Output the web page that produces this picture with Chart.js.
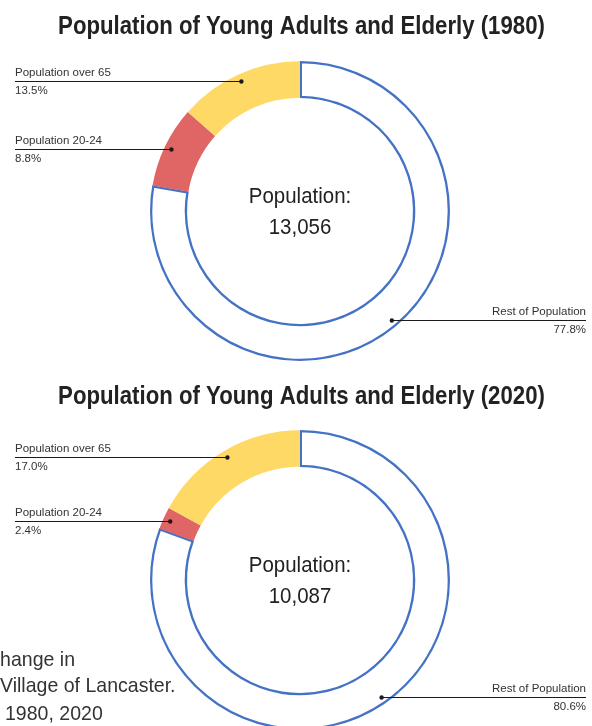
<!DOCTYPE html>
<html>
<head>
<meta charset="utf-8">
<script src="https://cdn.jsdelivr.net/npm/chart.js@4.4.1/dist/chart.umd.min.js"></script>
<style>
  html, body { margin: 0; padding: 0; background: #fff; width: 592px; height: 726px; overflow: hidden; position: relative; }
  canvas { position: absolute; left: 0; }
  #chart1980 { top: 0; }
  #chart2020 { top: 370px; }
  .note { position: absolute; white-space: nowrap; font-family: "Liberation Sans", Arial, sans-serif; font-size: 21px; color: #333; transform: scaleX(0.93); transform-origin: left top; }
</style>
</head>
<body>
<canvas id="chart1980" width="592" height="370"></canvas>
<canvas id="chart2020" width="592" height="370"></canvas>
<div class="note" style="left:-14px; top:647px;">Change in</div>
<div class="note" style="left:0px; top:673px;">Village of Lancaster.</div>
<div class="note" style="left:5px; top:701px;">1980, 2020</div>
<script>
// data
const segmentLabels = ['Rest of Population', 'Population 20-24', 'Population over 65'];
const shares1980 = [77.8, 8.8, 13.5];
const shares2020 = [80.6, 2.4, 17.0];
const years = ['1980', '2020'];
const totals = [13056, 10087];

const segmentColors = ['#FFFFFF', '#E06666', '#FFD966'];
const ringBlue = '#4472C4';
const textFont = '"Liberation Sans", Arial, sans-serif';

// narrow bold title, squeezed like Arial Narrow
const titlePlugin = {
    id: 'narrowTitle',
    afterDraw(chart) {
        const ctx = chart.ctx;
        ctx.save();
        ctx.fillStyle = '#222';
        ctx.font = 'bold 25px ' + textFont;
        ctx.textAlign = 'center';
        ctx.textBaseline = 'alphabetic';
        ctx.translate(301.5, 34);
        ctx.scale(0.888, 1);
        ctx.fillText(chart.options.plugins.narrowTitle.text, 0, 0);
        ctx.restore();
    }
};

// callout lines, dots, labels and the number in the middle
const calloutPlugin = {
    id: 'callouts',
    afterDatasetsDraw(chart) {
        const ctx = chart.ctx;
        const meta = chart.getDatasetMeta(0);
        const vals = chart.data.datasets[0].data;
        ctx.save();
        meta.data.forEach((arc, i) => {
            const p = arc.getProps(['x', 'y', 'startAngle', 'endAngle', 'innerRadius', 'outerRadius'], true);
            const mid = (p.startAngle + p.endAngle) / 2;
            const r = p.innerRadius + (p.outerRadius - p.innerRadius) * 0.8;
            const dx = p.x + Math.cos(mid) * r;
            const dy = Math.round(p.y + Math.sin(mid) * r);
            const left = Math.cos(mid) < 0;
            const edge = left ? 15 : chart.width - 6;

            ctx.strokeStyle = '#1a1a1a';
            ctx.lineWidth = 1.2;
            ctx.beginPath();
            ctx.moveTo(edge, dy + 0.5);
            ctx.lineTo(dx, dy + 0.5);
            ctx.stroke();

            ctx.fillStyle = '#1a1a1a';
            ctx.beginPath();
            ctx.arc(dx, dy + 0.5, 2.2, 0, Math.PI * 2);
            ctx.fill();

            ctx.fillStyle = '#333';
            ctx.font = '11.5px ' + textFont;
            ctx.textAlign = left ? 'left' : 'right';
            ctx.textBaseline = 'alphabetic';
            ctx.fillText(segmentLabels[i], edge, dy - 5);
            ctx.fillText(vals[i].toFixed(1) + '%', edge, dy + 13);
        });

        const c = meta.data[0].getProps(['x', 'y'], true);
        const total = chart.options.plugins.callouts.total;
        ctx.fillStyle = '#222';
        ctx.font = '22px ' + textFont;
        ctx.textAlign = 'center';
        ctx.textBaseline = 'alphabetic';
        ctx.translate(c.x, c.y);
        ctx.scale(0.93, 1);
        ctx.fillText('Population:', 0, -8);
        ctx.fillText(total.toLocaleString('en-US'), 0, 23);
        ctx.restore();
    }
};

function drawDonut(id, year, shares, total, padBottom) {
    return new Chart(document.getElementById(id), {
        type: 'doughnut',
        data: {
            labels: segmentLabels,
            datasets: [{
                data: shares,
                backgroundColor: segmentColors,
                borderColor: [ringBlue, ringBlue, ringBlue],
                borderWidth: [2, 0, 0],
                borderAlign: 'inner',
                clip: false
            }]
        },
        options: {
            responsive: false,
            animation: false,
            events: [],
            radius: 150,
            cutout: '75.3%',
            layout: { padding: { left: 8, right: 0, top: 61, bottom: padBottom } },
            plugins: {
                legend: { display: false },
                tooltip: { enabled: false },
                title: { display: false },
                narrowTitle: { text: 'Population of Young Adults and Elderly (' + year + ')' },
                callouts: { total: total }
            }
        },
        plugins: [calloutPlugin, titlePlugin]
    });
}

drawDonut('chart1980', years[0], shares1980, totals[0], 9);
drawDonut('chart2020', years[1], shares2020, totals[1], 11);
</script>
</body>
</html>
